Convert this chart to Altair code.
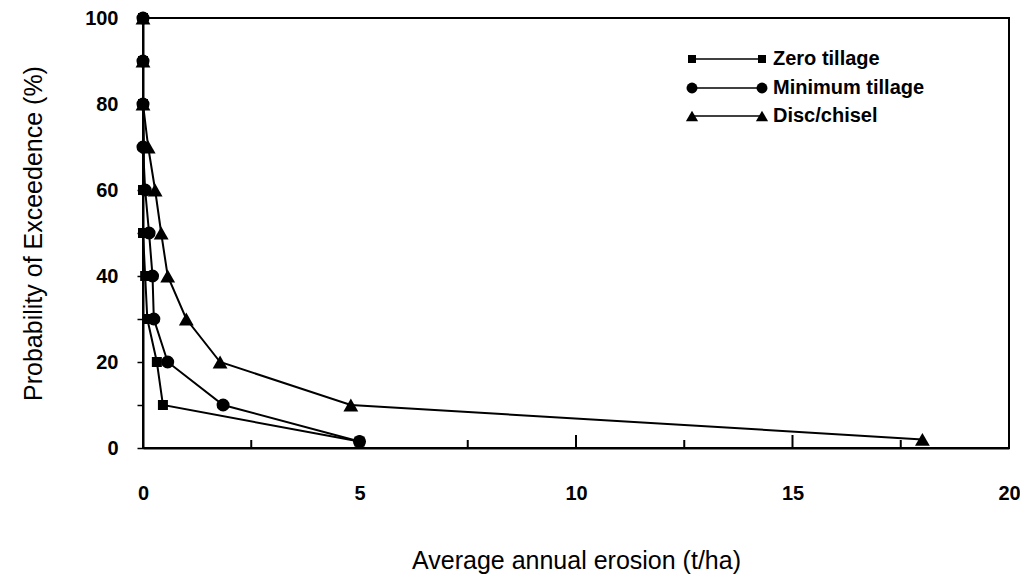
import altair as alt
import pandas as pd

FONT = "Liberation Sans"

series_names = ["Zero tillage", "Minimum tillage", "Disc/chisel"]
series_shapes = ["square", "circle", "triangle-up"]

zero_x = [0, 0, 0, 0.02, 0, 0, 0.05, 0.1, 0.32, 0.46, 5.0]
zero_y = [100, 90, 80, 70, 60, 50, 40, 30, 20, 10, 1.5]

min_x = [0, 0, 0, 0, 0.05, 0.14, 0.22, 0.25, 0.57, 1.85, 5.0]
min_y = [100, 90, 80, 70, 60, 50, 40, 30, 20, 10, 1.5]

disc_x = [0, 0, 0, 0.12, 0.28, 0.42, 0.57, 1.0, 1.78, 4.8, 18.0]
disc_y = [100, 90, 80, 70, 60, 50, 40, 30, 20, 10, 2]

x_major_ticks = [5, 10, 15]
x_minor_ticks = [2.5, 7.5, 12.5, 17.5]
x_labels = [0, 5, 10, 15, 20]
y_ticks = [0, 10, 20, 30, 40, 50, 60, 70, 80, 90, 100]

W, H = 866, 430

rows = []
for name, xs, ys in [(series_names[0], zero_x, zero_y),
                     (series_names[1], min_x, min_y),
                     (series_names[2], disc_x, disc_y)]:
    for i, (xv, yv) in enumerate(zip(xs, ys)):
        rows.append({"series": name, "x": xv, "y": yv, "idx": i})
df = pd.DataFrame(rows)

xscale = alt.Scale(domain=[0, 20], nice=False, zero=False)
yscale = alt.Scale(domain=[0, 100], nice=False)

xaxis = alt.Axis(
    values=x_labels, tickSize=0, grid=False,
    domainColor="black", domainWidth=2,
    labelFont=FONT, labelFontSize=20, labelFontWeight="bold", labelColor="black",
    labelPadding=35, labelFlush=False,
    title="Average annual erosion (t/ha)", titleFont=FONT, titleFontSize=25,
    titleFontWeight="normal", titleColor="black",
    titleX=W / 2, titleY=112, titleBaseline="middle", titleAlign="center",
)
yaxis = alt.Axis(
    values=y_ticks, tickSize=6, tickWidth=1.5, tickColor="black", grid=False,
    domainColor="black", domainWidth=2,
    labelExpr="datum.value % 20 == 0 ? datum.label : ''",
    labelFont=FONT, labelFontSize=20, labelFontWeight="bold", labelColor="black",
    labelPadding=19, labelFlush=False,
    title="Probability of Exceedence (%)", titleFont=FONT, titleFontSize=25,
    titleFontWeight="normal", titleColor="black",
    titleX=-110, titleY=H / 2, titleAngle=-90, titleBaseline="middle", titleAlign="center",
)

base = alt.Chart(df)

lines = base.mark_line(color="black", strokeWidth=2).encode(
    x=alt.X("x:Q", scale=xscale, axis=xaxis),
    y=alt.Y("y:Q", scale=yscale, axis=yaxis),
    detail="series:N",
    order=alt.Order("idx:Q"),
)

sizes = {"square": 100, "circle": 170, "triangle-up": 220}
point_layers = []
for name, shape in [(series_names[2], "triangle-up"), (series_names[0], "square"), (series_names[1], "circle")]:
    point_layers.append(
        base.transform_filter(alt.datum.series == name).mark_point(
            shape=shape, filled=True, color="black", opacity=1, size=sizes[shape]
        ).encode(x=alt.X("x:Q", scale=xscale), y=alt.Y("y:Q", scale=yscale))
    )

tick_df = pd.DataFrame({"t": x_major_ticks + x_minor_ticks,
                        "kind": ["major"] * len(x_major_ticks) + ["minor"] * len(x_minor_ticks)})
major = alt.Chart(tick_df).transform_filter(alt.datum.kind == "major").mark_rule(
    color="black", strokeWidth=2).encode(
    x=alt.X("t:Q", scale=xscale), y=alt.value(H), y2=alt.value(H - 13))
minor = alt.Chart(tick_df).transform_filter(alt.datum.kind == "minor").mark_rule(
    color="black", strokeWidth=2).encode(
    x=alt.X("t:Q", scale=xscale), y=alt.value(H), y2=alt.value(H - 8))

# legend (manual)
leg_layers = []
leg_rows_y = [41, 70, 98]
leg_sizes = {"square": 64, "circle": 120, "triangle-up": 150}
for name, shape, ly in zip(series_names, series_shapes, leg_rows_y):
    ldf = pd.DataFrame({"label": [name]})
    lc = alt.Chart(ldf)
    leg_layers.append(lc.mark_rule(color="black", strokeWidth=1.5).encode(
        x=alt.value(549), x2=alt.value(619), y=alt.value(ly)))
    for lx in (549, 619):
        leg_layers.append(lc.mark_point(shape=shape, filled=True, color="black",
                                        opacity=1, size=leg_sizes[shape]).encode(
            x=alt.value(lx), y=alt.value(ly)))
    leg_layers.append(lc.mark_text(align="left", baseline="middle", font=FONT,
                                   fontSize=20, fontWeight="bold", color="black").encode(
        x=alt.value(630), y=alt.value(ly), text="label:N"))

chart = alt.layer(lines, *point_layers, major, minor, *leg_layers).properties(
    width=W, height=H,
    autosize=alt.AutoSizeParams(type="none"),
    padding={"left": 135, "top": 10, "right": 11, "bottom": 128},
    background="white",
).configure_view(stroke="black", strokeWidth=2)

chart.save("out.html", embed_options={"renderer": "svg", "actions": False})
